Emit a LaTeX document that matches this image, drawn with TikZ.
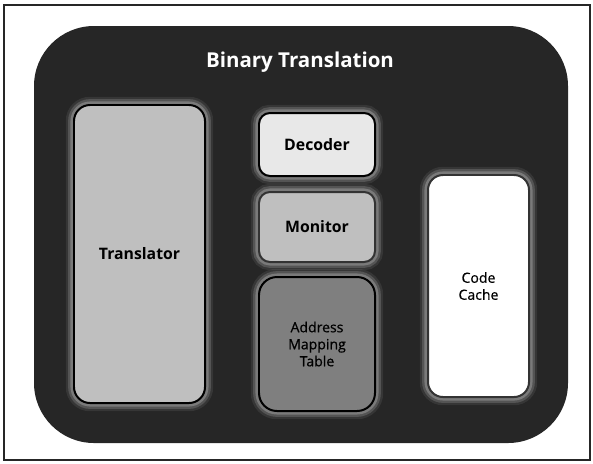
\documentclass[tikz,border=0pt]{standalone}
\usepackage{fontspec}
\setmainfont{Open Sans}
\newfontfamily\midweight[FakeBold=0.6]{Open Sans}
\usepackage{xcolor}

\definecolor{panel}{HTML}{262626}
\definecolor{halo}{HTML}{7A7A7A}
\definecolor{lightfill}{HTML}{E8E8E8}
\definecolor{midfill}{HTML}{BFBFBF}
\definecolor{darkfill}{HTML}{7F7F7F}

\begin{document}
\begin{tikzpicture}[x=0.03cm,y=-0.03cm,
		block/.style={draw=black, line width=1.7pt, align=center, inner sep=0pt,
			font=\bfseries\fontsize{13.5}{16}\selectfont,
			preaction={draw=halo, draw opacity=0.2, line width=14pt},
			preaction={draw=halo, draw opacity=0.45, line width=10pt},
			preaction={draw=halo, line width=6pt}},
		small/.style={font=\midweight\fontsize{12}{14.5}\selectfont}]
			\useasboundingbox (0,0) rectangle (593,463);
			\draw[line width=1.2pt, black!85] (4,5) rectangle (590,460);
			\fill[panel, rounded corners=60*0.03cm] (34,26) rectangle (568,443);
			\node[text=white, font=\bfseries\fontsize{17.5}{20}\selectfont] (title) at (300,62) {Binary Translation};
			\node[block, fill=midfill, rounded corners=16*0.03cm, minimum width=3.93cm, minimum height=8.94cm] (trans) at (139.5,254) {Translator};
			\node[block, fill=lightfill, rounded corners=11*0.03cm, minimum width=3.48cm, minimum height=1.89cm] (dec) at (317,144.5) {Decoder};
			\node[block, draw=black!80, fill=midfill, rounded corners=11*0.03cm, minimum width=3.48cm, minimum height=2.1cm] (mon) at (317,227) {Monitor};
			\node[block, fill=darkfill, small, rounded corners=18*0.03cm, minimum width=3.48cm, minimum height=4.02cm] (amt) at (317,344) {Address\\Mapping\\Table};
			\node[block, draw=black!80, fill=white, small, rounded corners=15*0.03cm, minimum width=3.03cm, minimum height=6.66cm] (cache) at (478.5,286) {Code\\Cache};
		\end{tikzpicture}
\end{document}
